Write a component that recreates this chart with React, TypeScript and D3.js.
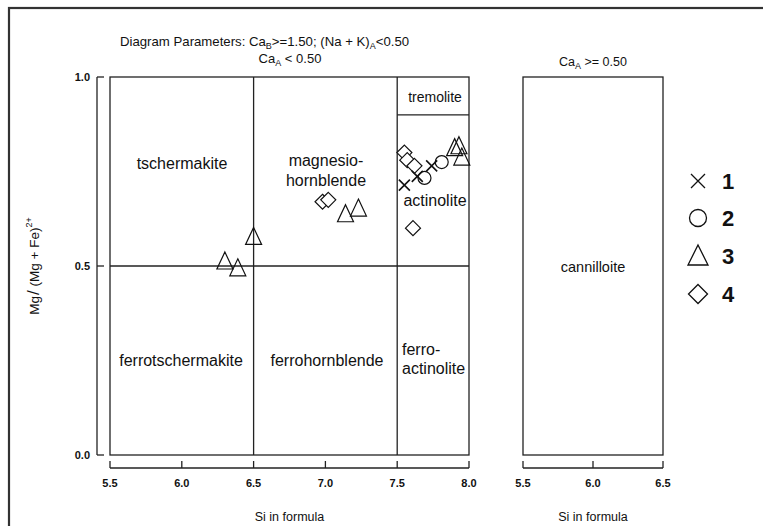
import React from "react";
import * as d3 from "d3";

const xTicksMain = [5.5, 6.0, 6.5, 7.0, 7.5, 8.0];
const xTicksSide = [5.5, 6.0, 6.5];
const yTicks = [0.0, 0.5, 1.0];

const series1X = [[7.55, 0.714], [7.64, 0.737], [7.74, 0.765]];
const series2Circle = [[7.69, 0.733], [7.81, 0.775]];
const series3Tri = [
  [6.3, 0.51], [6.39, 0.492], [6.5, 0.575],
  [7.14, 0.635], [7.23, 0.65],
  [7.9, 0.81], [7.93, 0.815], [7.95, 0.785],
];
const series4Diamond = [
  [6.98, 0.67], [7.02, 0.675],
  [7.55, 0.80], [7.57, 0.78], [7.62, 0.765],
  [7.61, 0.6],
];
const legendLabels = ["1", "2", "3", "4"];

const FONT = "'Liberation Sans', Arial, sans-serif";

export default function App() {
  const top = 77, bottom = 455;
  const x = d3.scaleLinear().domain([5.5, 8.0]).range([110, 469]);
  const x2 = d3.scaleLinear().domain([5.5, 6.5]).range([523, 663]);
  const y = d3.scaleLinear().domain([0, 1]).range([bottom, top]);
  const stroke = "#222";
  const sw = 1.3;

  const tri = (cx: number, cy: number, w: number, h: number) =>
    `M${cx},${cy - h * 0.6} L${cx + w * 0.5},${cy + h * 0.4} L${cx - w * 0.5},${cy + h * 0.4} Z`;
  const dia = (cx: number, cy: number, s: number) =>
    `M${cx},${cy - s / 2} L${cx + s / 2},${cy} L${cx},${cy + s / 2} L${cx - s / 2},${cy} Z`;
  const cross = (cx: number, cy: number, s: number) =>
    `M${cx - s / 2},${cy - s / 2} L${cx + s / 2},${cy + s / 2} M${cx + s / 2},${cy - s / 2} L${cx - s / 2},${cy + s / 2}`;

  const xAxisY = 468;
  const legendYs = [181, 218, 256, 294];

  return (
    <svg width={763} height={526} style={{ position: "absolute", left: 0, top: 0, background: "#fff" }} fontFamily={FONT}>
      <rect x={9} y={8} width={800} height={600} fill="none" stroke="#333" strokeWidth={2.2} />
      <text x={120} y={46} fontSize={13.2} fill="#111">
        Diagram Parameters: Ca<tspan fontSize={9} dy={3}>B</tspan>
        <tspan dy={-3}>&gt;=1.50; (Na + K)</tspan>
        <tspan fontSize={9} dy={3}>A</tspan>
        <tspan dy={-3}>&lt;0.50</tspan>
      </text>
      <text x={290} y={63} fontSize={13} textAnchor="middle" fill="#111">
        Ca<tspan fontSize={9} dy={3}>A</tspan><tspan dy={-3}> &lt; 0.50</tspan>
      </text>
      <text x={593} y={66} fontSize={12.5} textAnchor="middle" fill="#111">
        Ca<tspan fontSize={9} dy={3}>A</tspan><tspan dy={-3}> &gt;= 0.50</tspan>
      </text>

      {/* main box */}
      <rect x={x(5.5)} y={top} width={x(8.0) - x(5.5)} height={bottom - top} fill="none" stroke={stroke} strokeWidth={sw} />
      <line x1={x(6.5)} x2={x(6.5)} y1={top} y2={bottom} stroke={stroke} strokeWidth={sw} />
      <line x1={x(7.5)} x2={x(7.5)} y1={top} y2={bottom} stroke={stroke} strokeWidth={sw} />
      <line x1={x(5.5)} x2={x(8.0)} y1={y(0.5)} y2={y(0.5)} stroke={stroke} strokeWidth={sw} />
      <line x1={x(7.5)} x2={x(8.0)} y1={y(0.9)} y2={y(0.9)} stroke={stroke} strokeWidth={sw} />

      {/* side box */}
      <rect x={x2(5.5)} y={top} width={x2(6.5) - x2(5.5)} height={bottom - top} fill="none" stroke={stroke} strokeWidth={sw} />

      {/* region labels */}
      <g fontSize={16} fill="#111" textAnchor="middle">
        <text x={182} y={169}>tschermakite</text>
        <text x={326} y={166}>magnesio-</text>
        <text x={326} y={186}>hornblende</text>
        <text x={435} y={102} fontSize={14}>tremolite</text>
        <text x={435} y={206}>actinolite</text>
        <text x={181} y={366}>ferrotschermakite</text>
        <text x={327} y={366}>ferrohornblende</text>
        <text x={402} y={355} textAnchor="start">ferro-</text>
        <text x={402} y={374} textAnchor="start">actinolite</text>
        <text x={593} y={272} fontSize={14.5}>cannilloite</text>
      </g>

      {/* y axis */}
      <line x1={97} x2={97} y1={y(0)} y2={y(1)} stroke={stroke} strokeWidth={sw} />
      {yTicks.map((t) => (
        <g key={t}>
          <line x1={97} x2={104} y1={y(t)} y2={y(t)} stroke={stroke} strokeWidth={sw} />
          <text x={90} y={y(t) + 4} fontSize={11} fontWeight="bold" textAnchor="end" fill="#111">
            {d3.format(".1f")(t)}
          </text>
        </g>
      ))}
      <text transform={`translate(39,${y(0.5)}) rotate(-90)`} fontSize={13.5} textAnchor="middle" fill="#111">
        Mg<tspan fontSize={17} dx={1}>/</tspan> (Mg + Fe)<tspan fontSize={9} dy={-7}>2+</tspan>
      </text>

      {/* x axes */}
      <line x1={x(5.5)} x2={x(8.0)} y1={xAxisY} y2={xAxisY} stroke={stroke} strokeWidth={sw} />
      {xTicksMain.map((t) => (
        <g key={t}>
          <line x1={x(t)} x2={x(t)} y1={xAxisY} y2={xAxisY - 7} stroke={stroke} strokeWidth={sw} />
          <text x={x(t)} y={487} fontSize={11} fontWeight="bold" textAnchor="middle" fill="#111">
            {d3.format(".1f")(t)}
          </text>
        </g>
      ))}
      <text x={x(6.75)} y={521} fontSize={12.5} textAnchor="middle" fill="#111">Si in formula</text>

      <line x1={x2(5.5)} x2={x2(6.5)} y1={xAxisY} y2={xAxisY} stroke={stroke} strokeWidth={sw} />
      {xTicksSide.map((t) => (
        <g key={t}>
          <line x1={x2(t)} x2={x2(t)} y1={xAxisY} y2={xAxisY - 7} stroke={stroke} strokeWidth={sw} />
          <text x={x2(t)} y={487} fontSize={11} fontWeight="bold" textAnchor="middle" fill="#111">
            {d3.format(".1f")(t)}
          </text>
        </g>
      ))}
      <text x={x2(6.0)} y={521} fontSize={12.5} textAnchor="middle" fill="#111">Si in formula</text>

      {/* data */}
      <g fill="none" stroke="#111" strokeWidth={1.2}>
        {series4Diamond.map(([a, b], i) => (
          <path key={"d" + i} d={dia(x(a), y(b), 15)} fill="#fff" />
        ))}
        {series3Tri.map(([a, b], i) => (
          <path key={"t" + i} d={tri(x(a), y(b), 16, 17)} />
        ))}
        {series1X.map(([a, b], i) => (
          <path key={"x" + i} d={cross(x(a), y(b), 11)} strokeWidth={1.6} />
        ))}
        {series2Circle.map(([a, b], i) => (
          <circle key={"c" + i} cx={x(a)} cy={y(b)} r={6.5} />
        ))}
      </g>

      {/* legend */}
      <g fill="none" stroke="#111" strokeWidth={1.3}>
        <path d={cross(698, legendYs[0], 14)} />
        <circle cx={698} cy={legendYs[1]} r={8.5} />
        <path d={tri(698, legendYs[2] + 1, 20, 20)} />
        <path d={dia(698, legendYs[3], 19)} />
      </g>
      {legendLabels.map((l, i) => (
        <text key={l} x={722} y={legendYs[i] + 8} fontSize={22} fontWeight="bold" fill="#111">{l}</text>
      ))}
    </svg>
  );
}
